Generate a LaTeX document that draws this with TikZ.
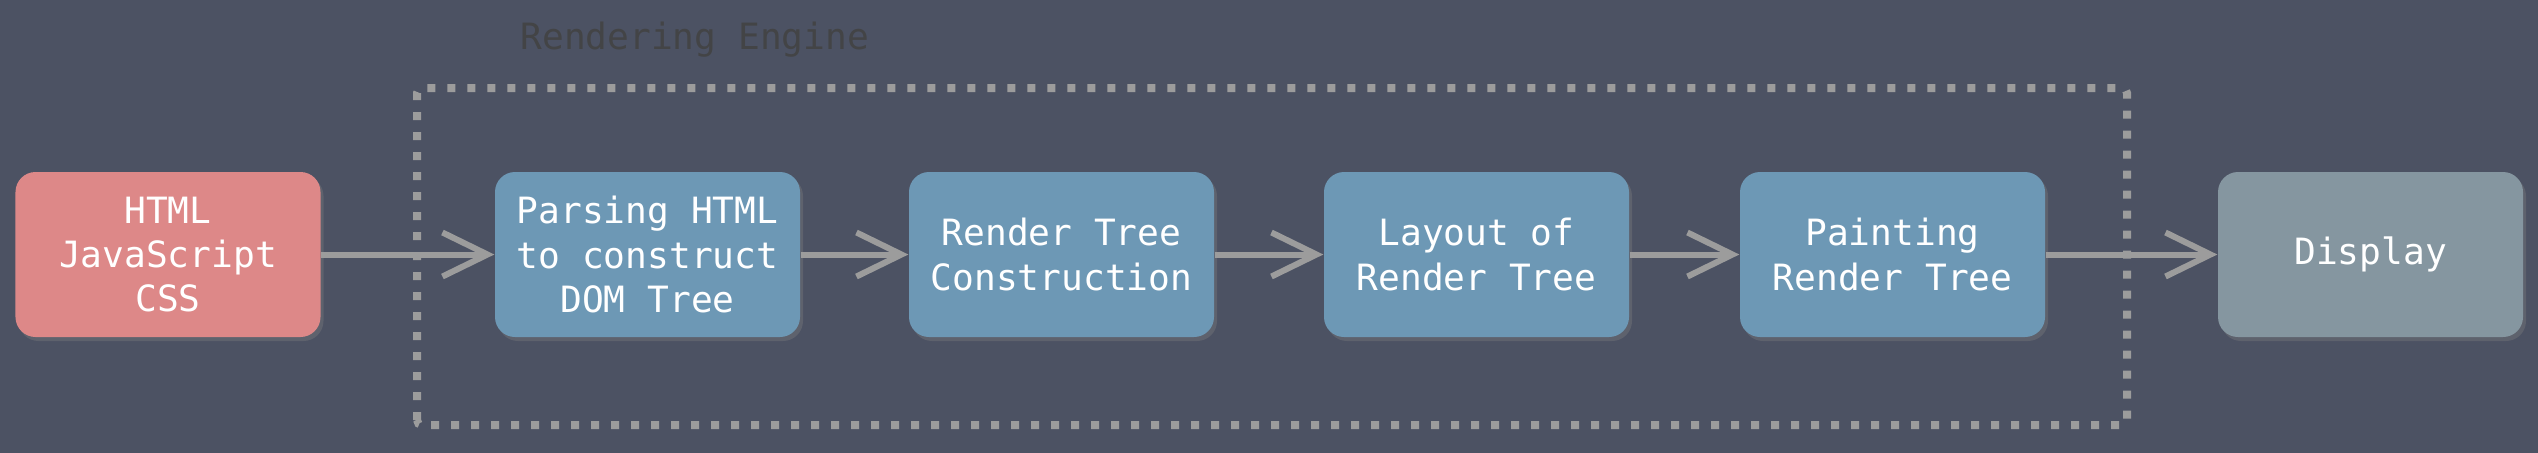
\documentclass[tikz,border=0pt]{standalone}
\usepackage{fontspec}
\setmonofont{DejaVu Sans Mono}
\usetikzlibrary{arrows.meta,shadows}
\definecolor{board}{HTML}{4C5263}
\definecolor{srcred}{HTML}{DD8888}
\definecolor{stageblue}{HTML}{6D98B5}
\definecolor{outgray}{HTML}{8596A0}
\definecolor{wiregray}{HTML}{9C9C9C}
\definecolor{titlegray}{HTML}{434446}
\tikzset{
  stage/.style={fill=stageblue, rounded corners=0.2cm, minimum width=3.05cm,
    minimum height=1.65cm, align=center, text=white, inner sep=0pt,
    font=\ttfamily\fontsize{10.3}{12.6}\selectfont,
    drop shadow={shadow xshift=0.03cm, shadow yshift=-0.04cm, opacity=0.35}},
  flow/.style={draw=wiregray, line width=0.06cm,
    -{Straight Barb[length=0.45cm, width=0.44cm]}},
}
\begin{document}
\begin{tikzpicture}
    \useasboundingbox (0,0) rectangle (25.38,4.52);
    \fill[board] (-0.05,-0.05) rectangle (25.43,4.57);
    \draw[wiregray, line width=0.08cm, dash pattern=on 0.08cm off 0.12cm, rounded corners=0.05cm]
        (4.17,0.27) rectangle (21.27,3.64);
    \node[anchor=west, text=titlegray, font=\ttfamily\fontsize{10.3}{12.6}\selectfont] (title) at (5.08,4.12) {Rendering Engine};
    \node[stage, fill=srcred] (src) at (1.68,1.975) {HTML\\JavaScript\\CSS};
    \node[stage] (parse) at (6.475,1.975) {Parsing HTML\\to construct\\DOM Tree};
    \node[stage] (build) at (10.615,1.975) {Render Tree\\Construction};
    \node[stage] (layout) at (14.765,1.975) {Layout of\\Render Tree};
    \node[stage] (paint) at (18.925,1.975) {Painting\\Render Tree};
    \node[stage, fill=outgray] (display) at (23.705,1.975) {Display};
    \draw[flow] (src) -- (parse);
    \draw[flow] (parse) -- (build);
    \draw[flow] (build) -- (layout);
    \draw[flow] (layout) -- (paint);
    \draw[flow] (paint) -- (display);
\end{tikzpicture}
\end{document}
